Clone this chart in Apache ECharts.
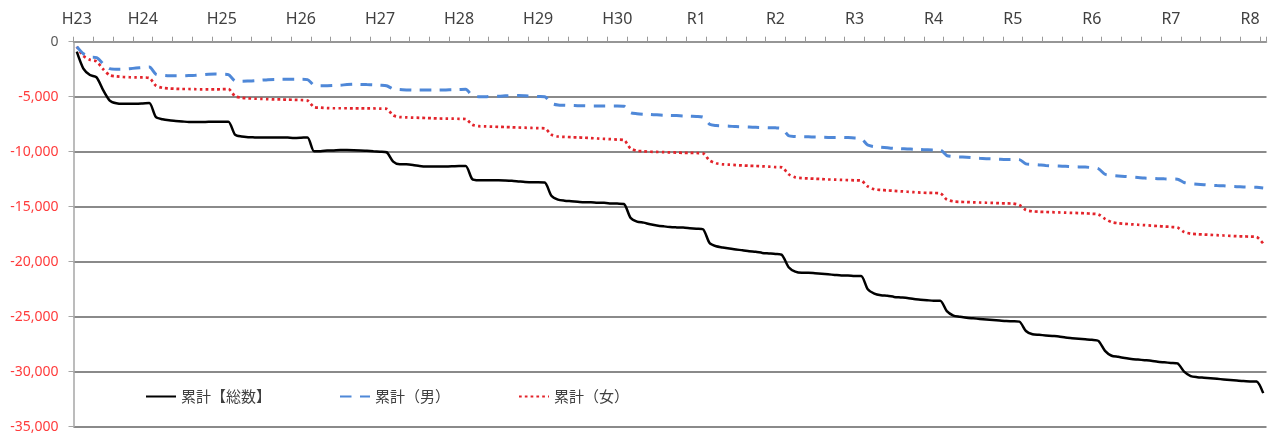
<!DOCTYPE html>
<html>
<head>
<meta charset="utf-8">
<script src="https://cdn.jsdelivr.net/npm/echarts@6/dist/echarts.min.js"></script>
<style>
  html, body { margin: 0; padding: 0; background: #fff; }
  #chart { width: 1271px; height: 436px; }
</style>
</head>
<body>
<div id="chart"></div>
<script>
// Monthly cumulative change, March 2011 (H23.3) to March 2026 (R8.3)
const startYear = 2011;
const startMonth = 3;
const monthCount = 181;

// Era labels shown on the top axis, one per calendar year 2011..2026
const eraLabels = ['H23', 'H24', 'H25', 'H26', 'H27', 'H28', 'H29', 'H30',
                   'R1', 'R2', 'R3', 'R4', 'R5', 'R6', 'R7', 'R8'];

const seriesNames = ['累計【総数】', '累計（男）', '累計（女）'];

// 累計【総数】
const totalValues = [
  -910, -2450, -3030, -3240, -4400, -5350, -5600, -5650, -5650, -5650, -5620, -5580,
  -6850, -7050, -7150, -7200, -7250, -7300, -7300, -7300, -7280, -7280, -7280, -7270,
  -8450, -8620, -8680, -8700, -8720, -8720, -8700, -8700, -8720, -8750, -8730, -8700,
  -9950, -9950, -9900, -9880, -9850, -9850, -9860, -9880, -9920, -9960, -10000, -10050,
  -10900, -11150, -11150, -11200, -11300, -11350, -11350, -11350, -11350, -11330, -11300, -11300,
  -12500, -12600, -12600, -12600, -12600, -12620, -12650, -12700, -12750, -12780, -12780, -12800,
  -14000, -14350, -14450, -14500, -14550, -14600, -14600, -14650, -14650, -14700, -14720, -14750,
  -16000, -16350, -16450, -16600, -16700, -16780, -16850, -16880, -16900, -16950, -17000, -17050,
  -18300, -18600, -18700, -18800, -18900, -18950, -19050, -19100, -19200, -19250, -19300, -19400,
  -20500, -20900, -21000, -21000, -21050, -21100, -21150, -21200, -21250, -21250, -21300, -21300,
  -22500, -22900, -23050, -23100, -23200, -23250, -23300, -23400, -23450, -23500, -23550, -23550,
  -24500, -24900, -25000, -25100, -25150, -25200, -25250, -25300, -25350, -25400, -25420, -25450,
  -26300, -26600, -26650, -26700, -26750, -26800, -26900, -26950, -27000, -27050, -27100, -27200,
  -28100, -28550, -28650, -28750, -28850, -28900, -28950, -29000, -29100, -29150, -29200, -29250,
  -30000, -30400, -30500, -30550, -30600, -30650, -30700, -30750, -30800, -30850, -30880, -30900,
  -31950
];

// 累計（男）
const maleValues = [
  -450, -1100, -1400, -1450, -2000, -2450, -2500, -2500, -2450, -2400, -2350, -2300,
  -2950, -3050, -3100, -3100, -3100, -3080, -3050, -3000, -2950, -2930, -2950, -3000,
  -3550, -3600, -3580, -3550, -3500, -3450, -3430, -3420, -3420, -3420, -3420, -3450,
  -3950, -4000, -4000, -3980, -3950, -3900, -3870, -3880, -3900, -3920, -3950, -4000,
  -4300, -4350, -4380, -4400, -4400, -4400, -4400, -4400, -4380, -4370, -4350, -4330,
  -4900, -5000, -5000, -4950, -4950, -4920, -4900, -4900, -4920, -4950, -4980, -5000,
  -5600, -5750, -5780, -5800, -5820, -5830, -5850, -5850, -5850, -5850, -5850, -5870,
  -6450, -6550, -6600, -6620, -6650, -6680, -6700, -6720, -6750, -6780, -6800, -6850,
  -7500, -7620, -7650, -7680, -7720, -7740, -7760, -7780, -7800, -7820, -7830, -7900,
  -8550, -8620, -8640, -8650, -8670, -8680, -8700, -8700, -8700, -8720, -8750, -8800,
  -9400, -9550, -9600, -9650, -9700, -9720, -9750, -9780, -9800, -9830, -9850, -9850,
  -10350, -10450, -10480, -10500, -10550, -10600, -10630, -10650, -10680, -10700, -10700, -10720,
  -11100, -11150, -11200, -11250, -11280, -11300, -11330, -11360, -11380, -11400, -11450, -11550,
  -12050, -12150, -12200, -12250, -12300, -12350, -12400, -12420, -12450, -12470, -12480, -12500,
  -12800, -12900, -12950, -13000, -13050, -13080, -13100, -13150, -13180, -13200, -13220, -13240,
  -13300
];

// 累計（女）
const femaleValues = [
  -450, -1300, -1650, -1800, -2500, -3050, -3150, -3200, -3230, -3250, -3250, -3300,
  -4000, -4200, -4250, -4280, -4300, -4300, -4320, -4330, -4330, -4330, -4320, -4300,
  -4950, -5100, -5150, -5180, -5200, -5220, -5250, -5250, -5270, -5280, -5300, -5350,
  -5950, -6000, -6030, -6050, -6050, -6050, -6060, -6060, -6070, -6070, -6080, -6100,
  -6700, -6850, -6880, -6900, -6920, -6940, -6960, -6980, -6990, -7000, -7010, -7030,
  -7550, -7680, -7700, -7720, -7740, -7760, -7780, -7800, -7820, -7840, -7860, -7880,
  -8450, -8620, -8650, -8680, -8700, -8730, -8760, -8800, -8830, -8860, -8900, -8940,
  -9700, -9920, -9960, -10000, -10020, -10040, -10060, -10080, -10100, -10100, -10120, -10150,
  -10800, -11050, -11150, -11180, -11220, -11250, -11280, -11300, -11330, -11360, -11400, -11430,
  -12050, -12330, -12400, -12430, -12460, -12490, -12520, -12540, -12560, -12580, -12600, -12630,
  -13150, -13420, -13480, -13520, -13560, -13600, -13640, -13680, -13720, -13740, -13750, -13780,
  -14350, -14520, -14560, -14580, -14600, -14620, -14640, -14660, -14680, -14700, -14720, -14850,
  -15300, -15420, -15460, -15480, -15500, -15520, -15540, -15560, -15580, -15600, -15640, -15700,
  -16100, -16400, -16500, -16550, -16600, -16640, -16680, -16720, -16760, -16800, -16840, -16900,
  -17300, -17450, -17500, -17530, -17560, -17590, -17620, -17650, -17680, -17700, -17720, -17750,
  -18350
];

// Category keys "YYYY-MM", one per month
const categories = [];
for (let i = 0; i < monthCount; i++) {
  const m0 = startMonth - 1 + i;
  const y = startYear + Math.floor(m0 / 12);
  const m = (m0 % 12) + 1;
  categories.push(y + '-' + String(m).padStart(2, '0'));
}

// A year label sits on the first month shown and on every January
function isLabelMonth(index, key) {
  return index === 0 || key.endsWith('-01');
}
function eraOf(key) {
  return eraLabels[parseInt(key.slice(0, 4), 10) - startYear];
}

const numFont = '"Noto Sans", "Liberation Sans", sans-serif';
const cjkFont = '"Noto Sans CJK JP", "Noto Sans", sans-serif';

const chart = echarts.init(document.getElementById('chart'), null, { renderer: 'canvas' });

chart.setOption({
  backgroundColor: '#ffffff',
  animation: false,
  grid: { left: 73.5, right: 4.5, top: 41.7, bottom: 9.3 },
  legend: {
    data: seriesNames,
    left: 140,
    top: 384,
    itemWidth: 30,
    itemHeight: 14,
    itemGap: 68,
    // line-only legend keys, no point marker
    itemStyle: { opacity: 0 },
    textStyle: { fontFamily: cjkFont, fontSize: 15, color: '#404040' }
  },
  xAxis: {
    type: 'category',
    position: 'top',
    data: categories,
    boundaryGap: true,
    axisLine: { show: true, lineStyle: { color: '#9a9a9a', width: 1.5 } },
    axisTick: {
      show: true,
      length: 5,
      interval: (index) => index % 3 === 0,
      lineStyle: { color: '#9a9a9a', width: 1 }
    },
    axisLabel: {
      interval: (index, value) => isLabelMonth(index, value),
      formatter: (value) => eraOf(value),
      margin: 14,
      color: '#404040',
      fontFamily: numFont,
      fontSize: 16
    },
    splitLine: { show: false }
  },
  yAxis: {
    type: 'value',
    min: -35000,
    max: 0,
    interval: 5000,
    axisLine: { show: true, lineStyle: { color: '#a6a6a6', width: 1.5 } },
    axisTick: { show: true, length: 5, lineStyle: { color: '#a6a6a6' } },
    axisLabel: {
      margin: 15,
      fontFamily: numFont,
      fontSize: 14,
      color: (value) => (Number(value) < 0 ? '#ff3b3b' : '#595959'),
      formatter: (value) => value.toLocaleString('en-US')
    },
    splitLine: { show: true, lineStyle: { color: '#8a8a8a', width: 1.8 } }
  },
  series: [
    {
      name: seriesNames[0],
      type: 'line',
      data: totalValues,
      symbol: 'none',
      smooth: 0.25,
      z: 4,
      lineStyle: { color: '#000000', width: 2.5 },
      itemStyle: { color: '#000000' }
    },
    {
      name: seriesNames[1],
      type: 'line',
      data: maleValues,
      symbol: 'none',
      smooth: 0.25,
      z: 3,
      lineStyle: { color: '#4f88d8', width: 3, type: [11.5, 8.5] },
      itemStyle: { color: '#4f88d8' }
    },
    {
      name: seriesNames[2],
      type: 'line',
      data: femaleValues,
      symbol: 'none',
      smooth: 0.25,
      z: 2,
      lineStyle: { color: '#e3242b', width: 2.7, type: [2.7, 3.1] },
      itemStyle: { color: '#e3242b' }
    }
  ]
});
</script>
</body>
</html>
